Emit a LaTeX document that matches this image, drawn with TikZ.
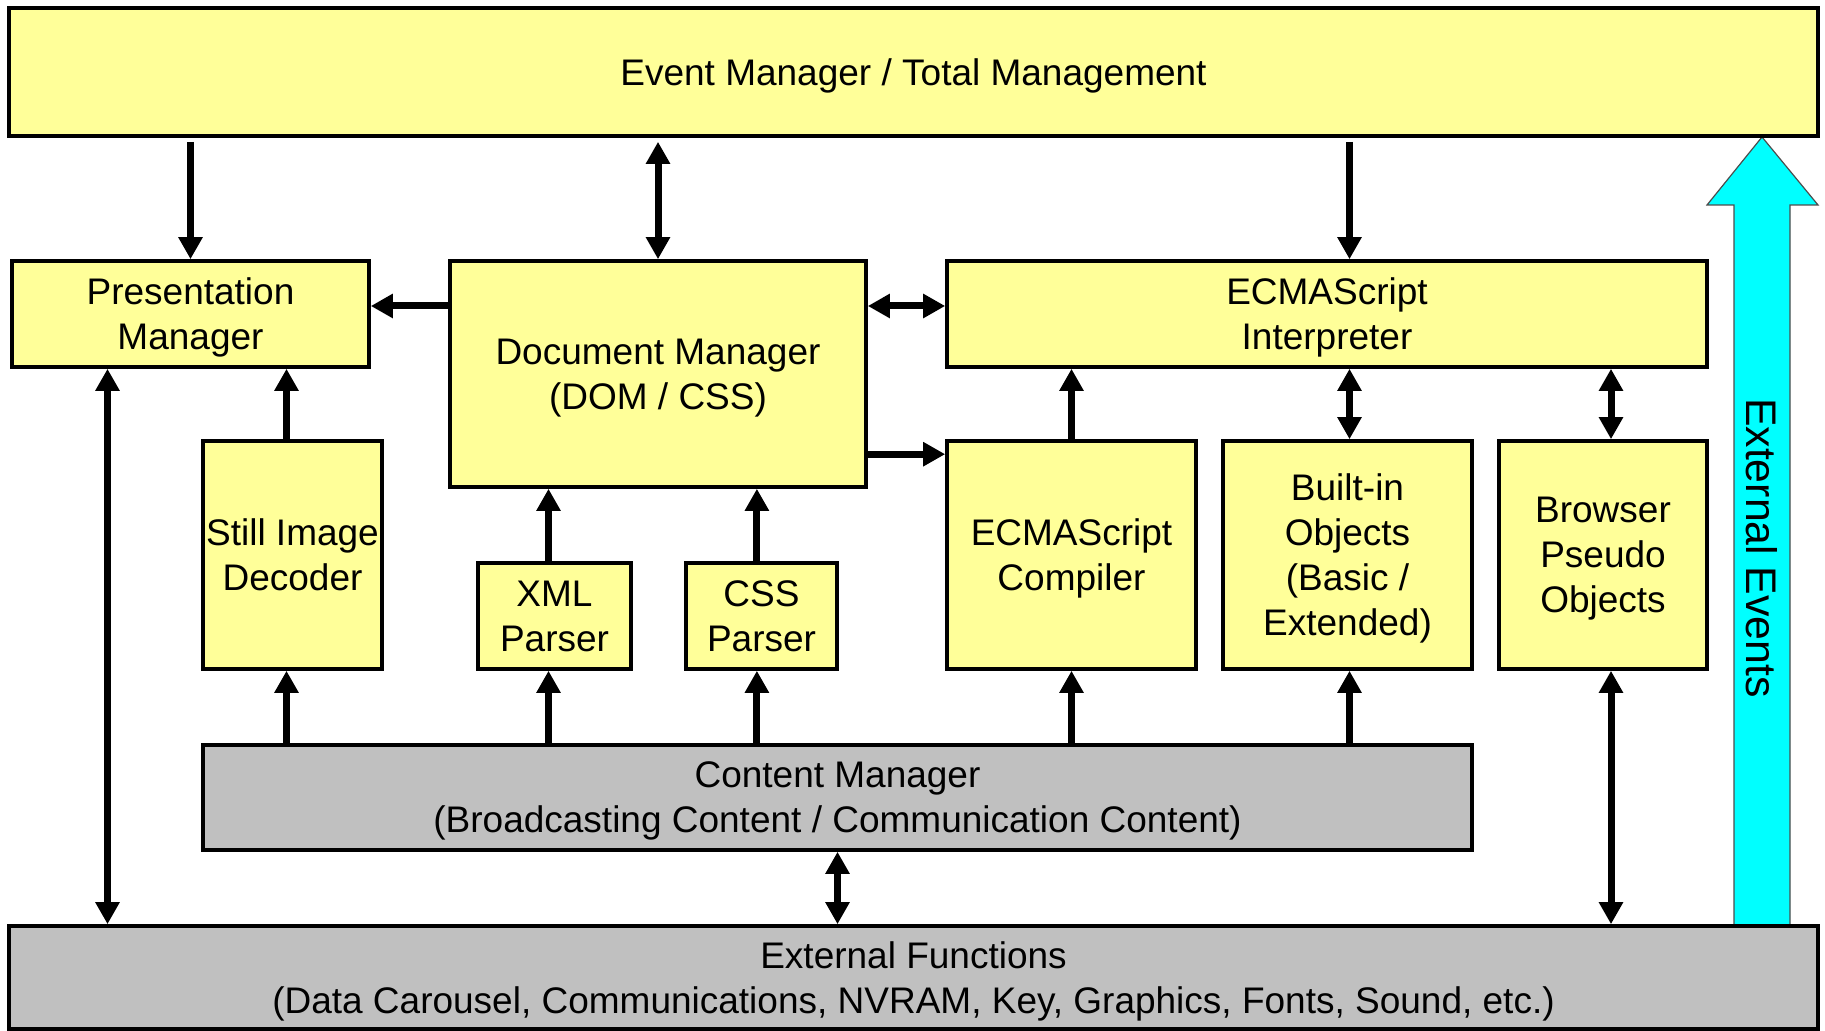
\documentclass[tikz,border=0pt]{standalone}
\usepackage{fontspec}
\setmainfont{Liberation Sans}
\usetikzlibrary{arrows.meta}
\definecolor{boxyellow}{HTML}{FFFF99}
\definecolor{boxgray}{HTML}{C0C0C0}
\definecolor{evcyan}{HTML}{00FFFF}

\begin{document}
\begin{tikzpicture} [
        x=0.5pt, y=-0.5pt,
        blockbox/.style={
            rectangle,
            draw,
            line width=1.8pt,
            fill=boxyellow,
            align=center,
            inner sep=0pt,
            text depth=0pt,
            font=\fontsize{18.5pt}{22.5pt}\selectfont
        },
        greybox/.style={
            blockbox,
            fill=boxgray
        },
        flow/.style={
            line width=3.5pt,
            -{Triangle[width=11.5pt,length=11pt]}
        },
        both/.style={
            flow,
            {Triangle[width=11.5pt,length=11pt]}-{Triangle[width=11.5pt,length=11pt]}
        }
    ]

        \useasboundingbox (0,0) rectangle (1825,1031);

        \fill[evcyan, draw=black!70, line width=0.6pt]
            (1734,926) -- (1734,205) -- (1707,205) -- (1762,137) -- (1818,205) -- (1790,205) -- (1790,926) -- cycle;
        \node[rotate=-90, font=\fontsize{21.4pt}{25pt}\selectfont] (evt) at (1762,548) {External Events};

        \node[blockbox, minimum width=904.5pt, minimum height=64pt]  (em)  at (913.5,72)   {Event Manager / Total Management};
        \node[blockbox, minimum width=178.5pt, minimum height=53pt]  (pm)  at (190.5,314)  {Presentation\\Manager};
        \node[blockbox, minimum width=208pt,   minimum height=113pt] (dm)  at (658,374)    {Document Manager\\(DOM / CSS)};
        \node[blockbox, minimum width=380pt,   minimum height=53pt]  (ei)  at (1327,314)   {ECMAScript\\Interpreter};
        \node[blockbox, minimum width=89.5pt,  minimum height=114pt] (sid) at (292.5,555)  {Still Image\\Decoder};
        \node[blockbox, minimum width=76.5pt,  minimum height=53pt]  (xml) at (554.5,616)  {XML\\Parser};
        \node[blockbox, minimum width=75.5pt,  minimum height=53pt]  (css) at (761.5,616)  {CSS\\Parser};
        \node[blockbox, minimum width=124.5pt, minimum height=114pt] (ec)  at (1071.5,555) {ECMAScript\\Compiler};
        \node[blockbox, minimum width=124.5pt, minimum height=114pt] (bo)  at (1347.5,555) {Built-in\\Objects\\(Basic /\\Extended)};
        \node[blockbox, minimum width=104pt,   minimum height=114pt] (bpo) at (1603,555)   {Browser\\Pseudo\\Objects};
        \node[greybox,  minimum width=634.5pt, minimum height=52.5pt] (cm) at (837.5,797.5) {Content Manager\\(Broadcasting Content / Communication Content)};
        \node[greybox,  minimum width=904.5pt, minimum height=51.5pt] (ef) at (913.5,977.5) {External Functions\\(Data Carousel, Communications, NVRAM, Key, Graphics, Fonts, Sound, etc.)};

        \coordinate (pmr) at ([yshift=4pt]pm.east);
        \coordinate (ecl) at ([yshift=-7.5pt]ec.north west);
        \coordinate (pml) at ([xshift=-41.5pt]pm.south);
        \coordinate (sidt) at ([xshift=-3pt]sid.north);
        \coordinate (xmlt) at ([xshift=-3pt]xml.north);
        \coordinate (csst) at ([xshift=-2.3pt]css.north);
        \coordinate (bot) at ([xshift=1pt]bo.north);
        \coordinate (bpot) at ([xshift=4pt]bpo.north);

        \draw[flow, shorten <=2pt] (pm.north |- em.south) -- (pm.north);
        \draw[both, shorten <=2pt] (dm.north |- em.south) -- (dm.north);
        \draw[flow, shorten <=2pt] (em.south -| bot) -- (ei.north -| bot);

        \draw[flow] (pmr -| dm.west) -- (pmr);
        \draw[both] (dm.east |- pmr) -- (ei.west |- pmr);
        \draw[flow] (dm.east |- ecl) -- (ecl);

        \draw[flow] (sidt) -- (sidt |- pm.south);
        \draw[flow] (xmlt) -- (xmlt |- dm.south);
        \draw[flow] (csst) -- (csst |- dm.south);
        \draw[flow] (ec.north) -- (ec.north |- ei.south);
        \draw[both] (bot) -- (bot |- ei.south);
        \draw[both] (bpot) -- (bpot |- ei.south);

        \foreach \n in {sidt,xmlt,csst,ec,bot}
            \draw[flow] (cm.north -| \n) -- (\n |- sid.south);

        \draw[both] (pml) -- (pml |- ef.north);
        \draw[both] (cm.south) -- (cm.south |- ef.north);
        \draw[both] (bpot |- bpo.south) -- (bpot |- ef.north);

    \end{tikzpicture}
\end{document}
